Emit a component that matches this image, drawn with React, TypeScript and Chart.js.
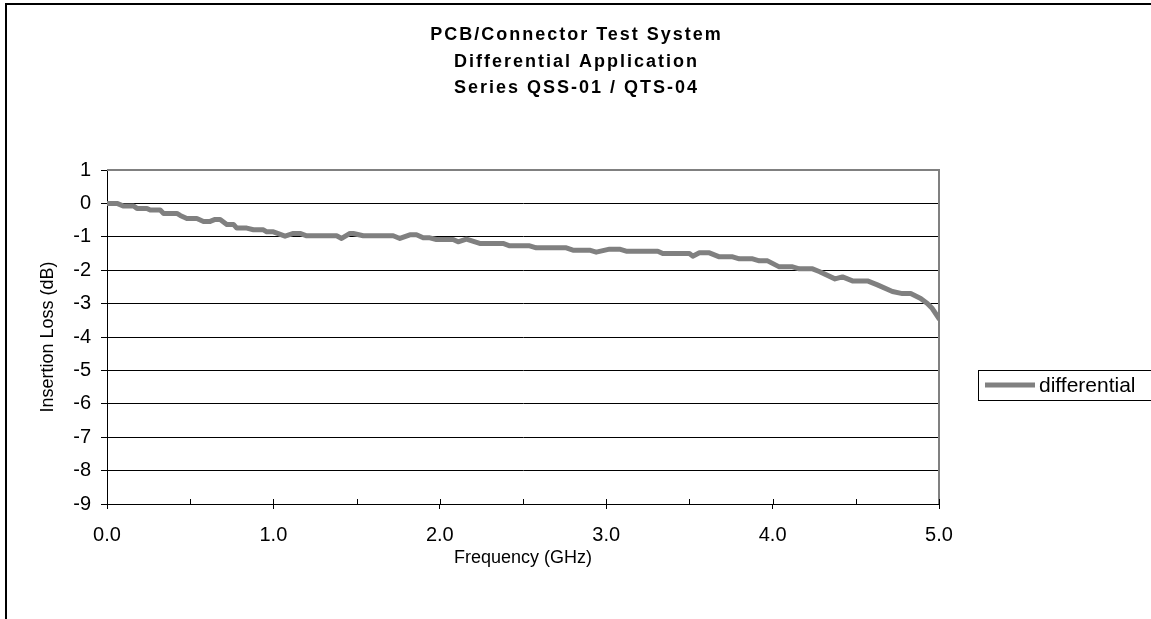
import { useEffect, useRef } from "react";
import { Chart, registerables } from "chart.js";

Chart.register(...registerables);

const TITLE_LINES = ["PCB/Connector Test System", "Differential Application", "Series QSS-01 / QTS-04"];
const X_TITLE = "Frequency (GHz)";
const Y_TITLE = "Insertion Loss (dB)";
const SERIES_NAME = "differential";

const FREQ_GHZ = [
  0, 0.06, 0.1, 0.16, 0.18, 0.24, 0.26, 0.32, 0.34, 0.42, 0.44, 0.48, 0.54, 0.58, 0.62, 0.65, 0.68,
  0.72, 0.76, 0.78, 0.84, 0.88, 0.94, 0.96, 1.0, 1.07, 1.12, 1.16, 1.2, 1.38, 1.41, 1.46, 1.48,
  1.54, 1.72, 1.76, 1.82, 1.86, 1.9, 1.94, 1.98, 2.08, 2.11, 2.16, 2.24, 2.38, 2.42, 2.54, 2.58,
  2.76, 2.8, 2.9, 2.94, 3.02, 3.08, 3.12, 3.31, 3.34, 3.5, 3.52, 3.56, 3.62, 3.68, 3.76, 3.8, 3.88,
  3.92, 3.97, 4.04, 4.12, 4.16, 4.24, 4.28, 4.375, 4.42, 4.48, 4.57, 4.63, 4.72, 4.78, 4.83, 4.89,
  4.93, 4.96, 5.0,
];
const LOSS_DB = [
  0, 0, -0.08, -0.08, -0.15, -0.15, -0.2, -0.2, -0.3, -0.3, -0.36, -0.45, -0.45, -0.54, -0.54, -0.48, -0.48,
  -0.63, -0.63, -0.74, -0.74, -0.79, -0.79, -0.85, -0.85, -0.98, -0.9, -0.9, -0.97, -0.97, -1.05, -0.9, -0.9,
  -0.97, -0.97, -1.05, -0.94, -0.94, -1.03, -1.03, -1.08, -1.08, -1.15, -1.07, -1.2, -1.2, -1.27, -1.27, -1.33,
  -1.33, -1.4, -1.4, -1.46, -1.37, -1.37, -1.43, -1.43, -1.5, -1.5, -1.58, -1.48, -1.48, -1.6, -1.6, -1.66, -1.66,
  -1.72, -1.72, -1.9, -1.9, -1.96, -1.96, -2.04, -2.26, -2.2, -2.32, -2.32, -2.44, -2.64, -2.7, -2.7, -2.85,
  -3.0, -3.15, -3.45,
];

const X_MIN = 0;
const X_MAX = 5;
const X_STEP = 0.5;
const Y_MIN = -9;
const Y_MAX = 1;
const Y_STEP = 1;

const FONT = "'Liberation Sans', Arial, Helvetica, sans-serif";
const LINE_COLOR = "#808080";

export default function App() {
  const canvasRef = useRef<HTMLCanvasElement | null>(null);

  useEffect(() => {
    const canvas = canvasRef.current;
    if (!canvas) return;

    const decorPlugin = {
      id: "decor",
      beforeDatasetsDraw(chart: any) {
        const { ctx, chartArea } = chart;
        const { left, right, top, bottom } = chartArea;
        ctx.save();
        // gray plot-area frame (top and right)
        ctx.strokeStyle = LINE_COLOR;
        ctx.lineWidth = 2;
        ctx.beginPath();
        ctx.moveTo(left, top);
        ctx.lineTo(right, top);
        ctx.lineTo(right, bottom);
        ctx.stroke();
        // inner tick marks on x axis
        const xs = chart.scales.x;
        ctx.strokeStyle = "#000";
        ctx.lineWidth = 1;
        ctx.beginPath();
        for (const t of xs.ticks) {
          const px = Math.round(xs.getPixelForValue(t.value)) + 0.5;
          ctx.moveTo(px, bottom);
          ctx.lineTo(px, bottom - 5);
        }
        ctx.stroke();
        ctx.restore();
      },
      afterDraw(chart: any) {
        const { ctx, width } = chart;
        ctx.save();
        // title
        ctx.fillStyle = "#000";
        ctx.font = `bold 18px ${FONT}`;
        ctx.textAlign = "center";
        ctx.textBaseline = "middle";
        try {
          (ctx as any).letterSpacing = "2px";
        } catch (e) {}
        const ys = [35, 62, 88];
        TITLE_LINES.forEach((line, i) => ctx.fillText(line, width / 2 + 1, ys[i]));
        try {
          (ctx as any).letterSpacing = "0px";
        } catch (e) {}
        // legend
        const boxLeft = 978.5;
        const cy = 385;
        ctx.strokeStyle = "#000";
        ctx.lineWidth = 1;
        ctx.strokeRect(boxLeft, cy - 15 + 0.5, 300, 30);
        ctx.strokeStyle = LINE_COLOR;
        ctx.lineWidth = 5;
        ctx.beginPath();
        ctx.moveTo(985, cy);
        ctx.lineTo(1035, cy);
        ctx.stroke();
        ctx.fillStyle = "#000";
        ctx.font = `21px ${FONT}`;
        ctx.textAlign = "left";
        ctx.textBaseline = "middle";
        ctx.fillText(SERIES_NAME, 1039, cy + 1);
        ctx.restore();
      },
    };

    const chart = new Chart(canvas, {
      type: "line",
      data: {
        datasets: [
          {
            label: SERIES_NAME,
            data: FREQ_GHZ.map((f, i) => ({ x: f, y: LOSS_DB[i] })),
            borderColor: LINE_COLOR,
            backgroundColor: LINE_COLOR,
            borderWidth: 5,
            pointRadius: 0,
            tension: 0,
            borderJoinStyle: "round",
            borderCapStyle: "round",
          },
        ],
      },
      options: {
        animation: false,
        responsive: false,
        devicePixelRatio: 1,
        layout: { padding: { top: 170, right: 212, bottom: 0, left: 0 } },
        plugins: {
          legend: { display: false },
          title: { display: false },
          tooltip: { enabled: false },
        },
        scales: {
          x: {
            type: "linear",
            min: X_MIN,
            max: X_MAX,
            afterFit: (s: any) => {
              s.height = 115;
            },
            ticks: {
              stepSize: X_STEP,
              autoSkip: false,
              maxRotation: 0,
              padding: 14,
              color: "#000",
              font: { family: FONT, size: 20 },
              callback: (v: any) => (Math.abs(v - Math.round(v)) < 1e-9 ? Number(v).toFixed(1) : ""),
            },
            grid: {
              drawOnChartArea: false,
              drawTicks: true,
              tickLength: 5,
              tickColor: (c: any) =>
                Math.abs(c.tick.value - Math.round(c.tick.value)) < 1e-9 ? "#000" : "rgba(0,0,0,0)",
            },
            border: { display: true, color: "#000", width: 1 },
            title: {
              display: true,
              text: X_TITLE,
              color: "#000",
              font: { family: FONT, size: 18 },
              padding: { top: 0, bottom: 50 },
            },
          },
          y: {
            type: "linear",
            min: Y_MIN,
            max: Y_MAX,
            afterFit: (s: any) => {
              s.width = 107;
            },
            ticks: {
              stepSize: Y_STEP,
              padding: 10,
              color: "#000",
              font: { family: FONT, size: 20 },
            },
            grid: {
              drawTicks: true,
              tickLength: 6,
              tickColor: "#000",
              lineWidth: 1,
              color: (c: any) => (c.tick && c.tick.value === Y_MAX ? "rgba(0,0,0,0)" : "#000"),
            },
            border: { display: true, color: "#000", width: 1 },
            title: {
              display: true,
              text: Y_TITLE,
              color: "#000",
              font: { family: FONT, size: 18 },
              padding: { top: 37, bottom: 0 },
            },
          },
        },
      },
      plugins: [decorPlugin],
    });

    return () => chart.destroy();
  }, []);

  return (
    <div
      style={{
        position: "fixed",
        left: 0,
        top: 0,
        width: 1151,
        height: 619,
        overflow: "hidden",
        background: "#fff",
      }}
    >
      <div
        style={{
          position: "absolute",
          left: 5,
          top: 3,
          width: 1400,
          height: 900,
          border: "2px solid #000",
          boxSizing: "border-box",
        }}
      />
      <canvas
        ref={canvasRef}
        width={1151}
        height={619}
        style={{ position: "absolute", left: 0, top: 0, display: "block" }}
      />
    </div>
  );
}
